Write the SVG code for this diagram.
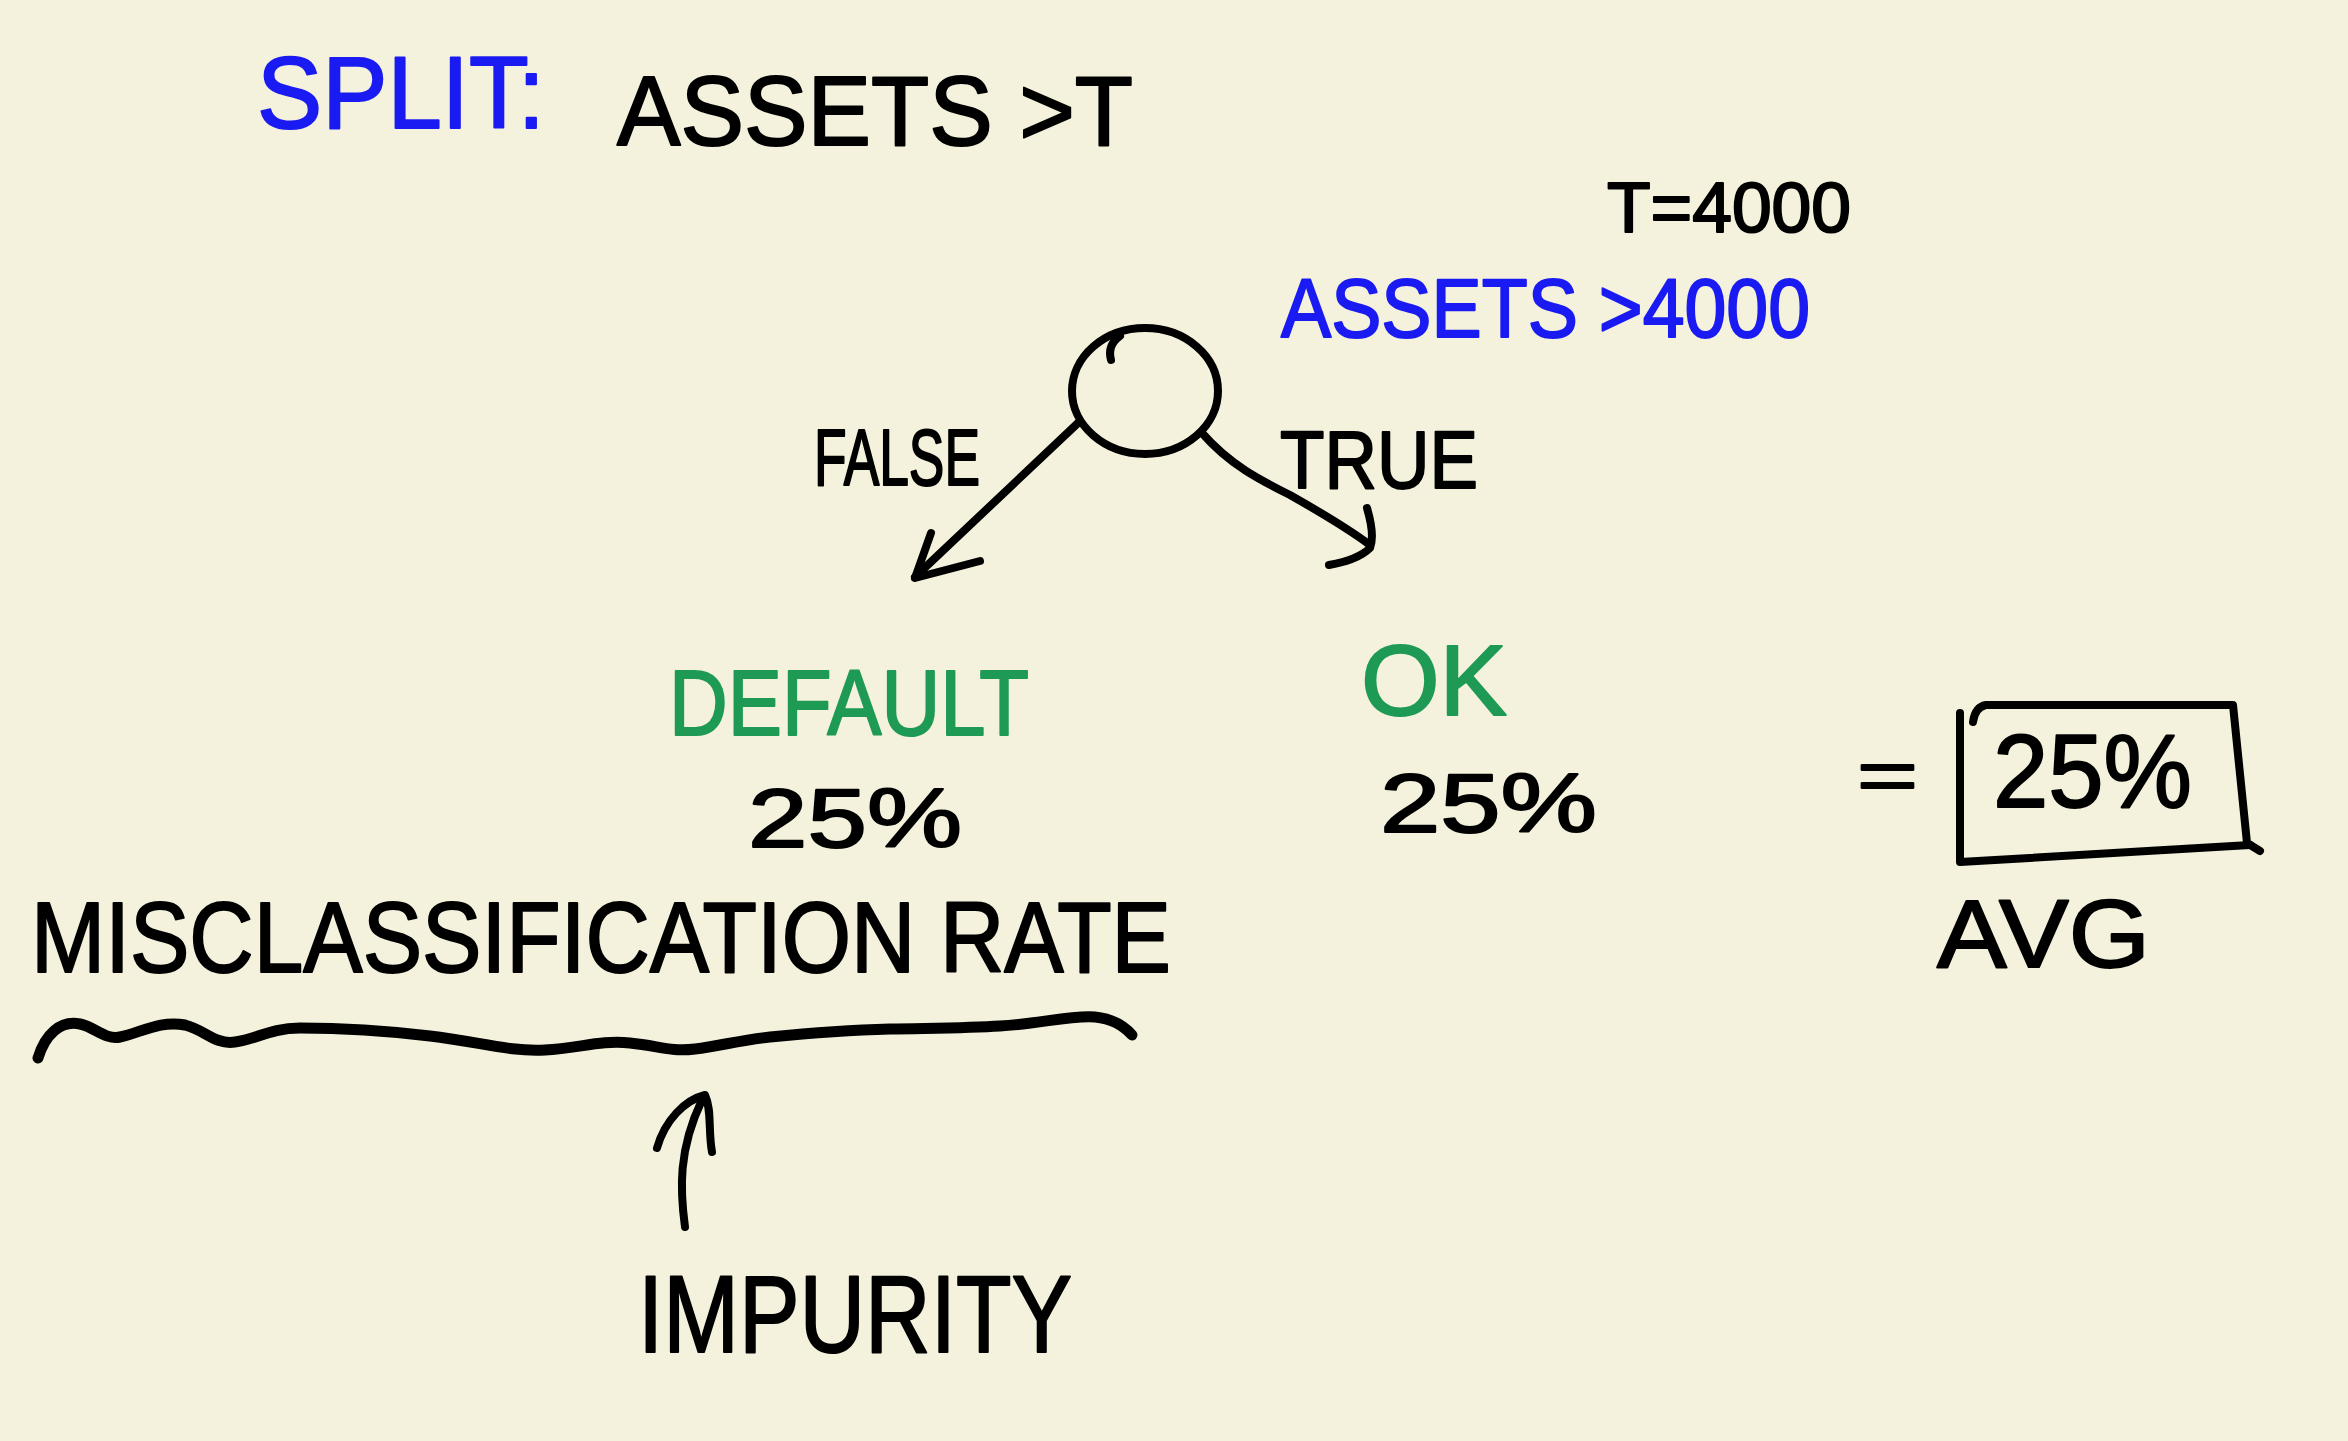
<svg xmlns="http://www.w3.org/2000/svg" width="2348" height="1441" viewBox="0 0 2348 1441">
<style>
text { font-family: "Liberation Sans", "DejaVu Sans", sans-serif; stroke-width: 2; stroke-linejoin: round; }
.k { fill: #000; stroke: #000; }
.b { fill: #1a1af2; stroke: #1a1af2; }
.g { fill: #1e9a55; stroke: #1e9a55; }
.ln { fill: none; stroke: #000; stroke-width: 8; stroke-linecap: round; stroke-linejoin: round; }
.wave { stroke-width: 11; }
</style>
<rect x="0" y="0" width="2348" height="1441" fill="#f4f2dc"/>

<g id="title">
  <text class="b" x="257" y="128" font-size="102" textLength="288" lengthAdjust="spacingAndGlyphs">SPLIT:</text>
  <text class="k" x="617" y="145" font-size="98" textLength="516" lengthAdjust="spacingAndGlyphs">ASSETS &gt;T</text>
</g>

<g id="threshold">
  <text class="k" x="1607" y="232" font-size="70" textLength="244" lengthAdjust="spacingAndGlyphs">T=4000</text>
</g>

<g id="root-node">
  <text class="b" x="1281" y="337" font-size="84" textLength="529" lengthAdjust="spacingAndGlyphs">ASSETS &gt;4000</text>
  <ellipse class="ln" cx="1145" cy="391" rx="73" ry="63"/>
  <path class="ln" d="M1111,360 Q1107,345 1120,336"/>
</g>

<g id="label-false">
  <text class="k" x="814" y="485" font-size="80" textLength="166" lengthAdjust="spacingAndGlyphs">FALSE</text>
</g>
<g id="label-true">
  <text class="k" x="1280" y="488" font-size="82" textLength="198" lengthAdjust="spacingAndGlyphs">TRUE</text>
</g>

<g id="node-default">
  <text class="g" x="669" y="735" font-size="92" textLength="360" lengthAdjust="spacingAndGlyphs">DEFAULT</text>
  <text class="k" x="748" y="847" font-size="84" textLength="214" lengthAdjust="spacingAndGlyphs">25%</text>
</g>

<g id="node-ok">
  <text class="g" x="1361" y="715" font-size="100" textLength="146" lengthAdjust="spacingAndGlyphs">OK</text>
  <text class="k" x="1380" y="832" font-size="84" textLength="217" lengthAdjust="spacingAndGlyphs">25%</text>
</g>

<g id="node-avg">
  <text class="k" x="1857" y="800" font-size="70" textLength="61" lengthAdjust="spacingAndGlyphs">=</text>
  <path class="ln" d="M1960,713 L1960,862 L2250,845"/>
  <path class="ln" d="M1973,722 Q1975,707 1986,705 L2233,705 L2247,843 L2260,851"/>
  <text class="k" x="1993" y="807" font-size="104" textLength="199" lengthAdjust="spacingAndGlyphs">25%</text>
  <text class="k" x="1937" y="967" font-size="96" textLength="213" lengthAdjust="spacingAndGlyphs">AVG</text>
</g>

<g id="misclassification">
  <text class="k" x="31" y="972" font-size="100" textLength="1140" lengthAdjust="spacingAndGlyphs">MISCLASSIFICATION RATE</text>
  <path class="ln wave" d="M38,1058 C45,1035 60,1020 80,1024 C95,1027 105,1040 120,1037 C140,1033 160,1020 185,1025 C205,1030 215,1045 235,1042 C255,1040 270,1028 300,1028 C330,1028 380,1030 430,1036 C480,1042 510,1052 545,1050 C580,1048 600,1040 630,1043 C660,1046 670,1052 695,1049 C720,1046 740,1040 770,1037 C820,1032 850,1030 890,1029 C940,1028 970,1028 1000,1026 C1040,1024 1070,1015 1095,1017 C1115,1019 1125,1027 1132,1035"/>
</g>

<g id="impurity">
  <text class="k" x="638" y="1352" font-size="110" textLength="434" lengthAdjust="spacingAndGlyphs">IMPURITY</text>
</g>

<g id="connectors">
  <path class="ln" d="M1078,423 Q1030,468 915,577"/>
  <path class="ln" d="M931,533 L915,578 L980,561"/>
  <path class="ln" d="M1202,433 C1230,465 1260,480 1290,495 C1320,512 1350,530 1370,545"/>
  <path class="ln" d="M1367,508 C1372,525 1374,538 1370,548 C1360,558 1345,562 1329,565"/>
  <path class="ln" d="M685,1227 C680,1190 678,1150 702,1100"/>
  <path class="ln" d="M657,1148 C665,1120 685,1100 705,1095 C712,1110 708,1130 712,1152"/>
</g>
</svg>
